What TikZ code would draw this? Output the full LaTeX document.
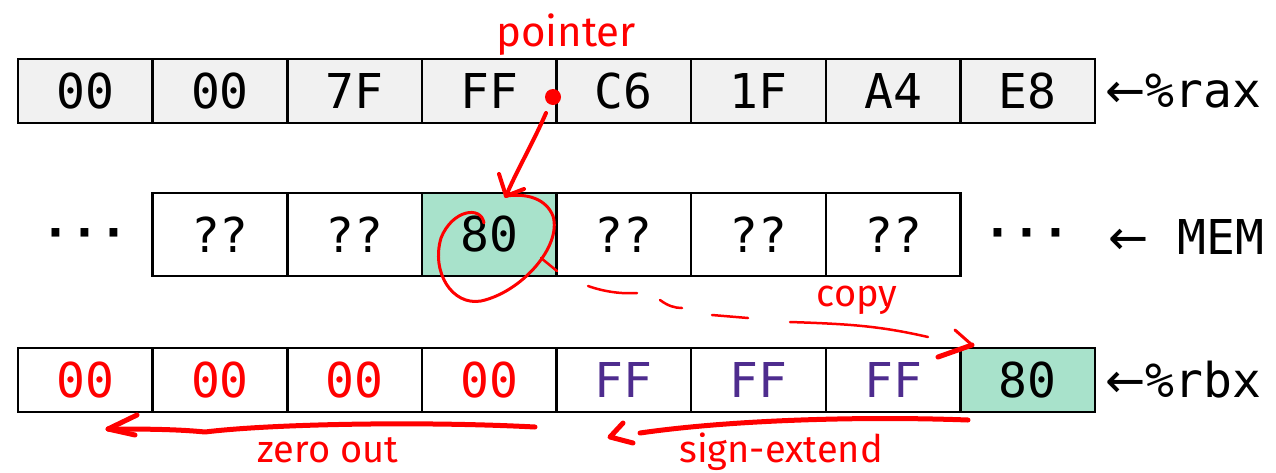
\documentclass[tikz,border=0pt]{standalone}
\usepackage{fontspec}
\newfontfamily\mono{DejaVu Sans Mono}
\newfontfamily\symb{DejaVu Sans}
\newfontfamily\hand{Fira Sans}
\definecolor{cellgrey}{RGB}{241,241,241}
\definecolor{cellgreen}{RGB}{168,226,203}
\definecolor{purp}{RGB}{78,44,142}
\definecolor{pen}{RGB}{255,0,0}
\tikzset{
  cell/.style={draw=black, line width=2.5pt, minimum width=134.625pt, inner sep=0pt,
    font=\mono\fontsize{48}{50}\selectfont, text=black},
  shortcell/.style={cell, minimum height=64pt},
  tallcell/.style={cell, minimum height=83pt},
  lbl/.style={anchor=west, inner sep=0pt, font=\mono\fontsize{48}{50}\selectfont},
  ink/.style={draw=pen, line cap=round, line join=round},
  note/.style={text=pen, inner sep=0pt, font=\hand\fontsize{38}{40}\selectfont}
}
\begin{document}
\begin{tikzpicture}[x=1pt,y=-1pt]
\useasboundingbox (0,0) rectangle (1276,472);

% row 1: %rax
\foreach \v [count=\i from 0] in {00,00,7F,FF,C6,1F,A4,E8}
  \node[shortcell, fill=cellgrey] (a\i) at ({18+134.625*(\i+0.5)},91) {\v};
\node[lbl] (rax) at (1105,91) {{\symb ←}\%rax};

% row 2: MEM
\foreach \v [count=\i from 1] in {??,??,80,??,??,??}
  \node[tallcell, fill=white] (m\i) at ({18+134.625*(\i+0.5)},234.5) {\v};
\node[tallcell, fill=cellgreen] (m3) at ({18+134.625*3.5},234.5) {80};
\node[inner sep=0pt, font=\mono\bfseries\fontsize{48}{50}\selectfont] (dl) at (85,239) {···};
\node[inner sep=0pt, font=\mono\bfseries\fontsize{48}{50}\selectfont] (dr) at (1027,239) {···};
\node[lbl] (mem) at (1108,237) {{\symb ←} MEM};

% row 3: %rbx
\foreach \i in {0,1,2,3}
  \node[shortcell, fill=white, text=pen] (b\i) at ({18+134.625*(\i+0.5)},380) {00};
\foreach \i in {4,5,6}
  \node[shortcell, fill=white, text=purp] (b\i) at ({18+134.625*(\i+0.5)},380) {FF};
\node[shortcell, fill=cellgreen] (b7) at ({18+134.625*7.5},380) {80};
\node[lbl] (rbx) at (1105,380) {{\symb ←}\%rbx};

% pointer annotation
\fill[pen] (553,97) circle (8);
\node[note, font=\hand\fontsize{42}{44}\selectfont, anchor=south] (ptr) at (566,56) {pointer};
\coordinate (p0) at (546,113);
\coordinate (p1) at (506,196);
\draw[ink, line width=4pt] (p0) .. controls (532,145) and (516,172) .. (p1);
\draw[ink, line width=4pt] (499,174) -- (p1) -- (524,189);

% circle round 80
\draw[ink, line width=3pt] (484,223) .. controls (481,205) and (452,210) .. (441,238)
  .. controls (431,272) and (452,306) .. (481,301)
  .. controls (522,292) and (562,246) .. (553,216)
  .. controls (546,199) and (528,193) .. (p1);

% copy (dashed hand arrow)
\node[note] (copy) at (857,300) {copy};
\coordinate (c1) at (972,345);
\draw[ink, line width=2.5pt] (541,258) -- (557,271);
\draw[ink, line width=2.5pt] (588,286) .. controls (605,292) and (622,294) .. (637,293);
\draw[ink, line width=2.5pt] (660,300) .. controls (668,306) and (675,308) .. (682,308);
\draw[ink, line width=2.5pt] (712,315) -- (748,318);
\draw[ink, line width=2.5pt] (790,322) .. controls (850,324) and (880,326) .. (928,337);
\draw[ink, line width=3pt] (955,330) -- (c1);
\draw[ink, line width=5pt] (c1) -- (938,357);

% zero out
\node[note, anchor=base] (zo) at (328,462) {zero out};
\coordinate (z0) at (535,427);
\coordinate (z1) at (108,429);
\draw[ink, line width=5pt] (z0) .. controls (420,421) and (270,424) .. (205,432)
  .. controls (175,429) and (140,429) .. (z1);
\draw[ink, line width=5pt] (137,415) -- (z1) -- (135,435);

% sign-extend
\node[note, anchor=base] (se) at (781,462) {sign-extend};
\coordinate (s0) at (968,420);
\coordinate (s1) at (640,433);
\draw[ink, line width=5pt] (s0) .. controls (860,416) and (730,420) .. (s1);
\draw[ink, line width=5pt] (623,423) -- (610,437) -- (633,443);
\end{tikzpicture}
\end{document}
